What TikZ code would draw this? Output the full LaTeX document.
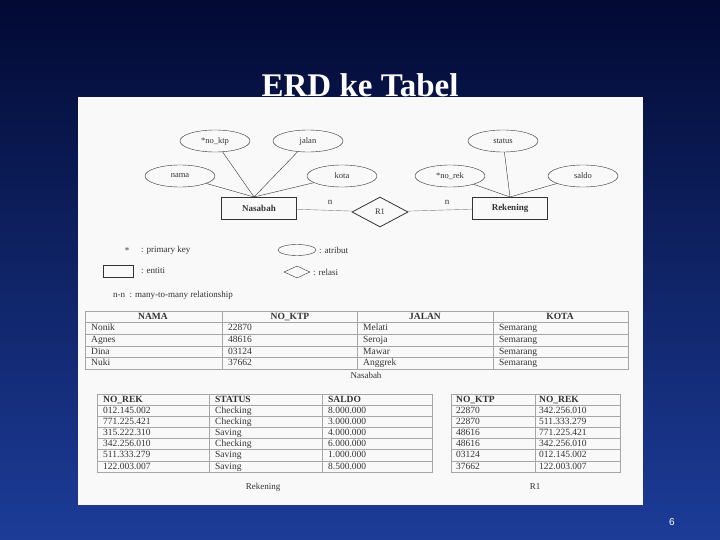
\documentclass[tikz,border=0pt]{standalone}
\usepackage{fontspec}
\setmainfont{Liberation Serif}
\newfontfamily\sansf{Liberation Sans}
\usetikzlibrary{shapes.geometric}
\definecolor{bgtop}{HTML}{020A33}
\definecolor{bgbot}{HTML}{1C3C98}
\definecolor{ink}{HTML}{333333}
\begin{document}
\begin{tikzpicture}[x=1pt,y=-1pt,
  attr/.style={ellipse,draw=ink,minimum width=70pt,minimum height=22pt,inner sep=0pt,font=\fontsize{8.5}{8}\selectfont,text=ink},
  ent/.style={rectangle,draw=ink,thick,minimum width=75pt,minimum height=22pt,font=\fontsize{9}{9}\selectfont\bfseries,text=ink},
  rel/.style={diamond,draw=ink,thick,aspect=1.9,minimum width=56pt,minimum height=30pt,inner sep=0pt,font=\fontsize{8.5}{8}\selectfont,text=ink},
  lnk/.style={draw=ink,thin},
  txt/.style={font=\fontsize{9}{9}\selectfont,text=ink,inner sep=1pt},
  cell/.style={font=\fontsize{9.5}{9}\selectfont,text=ink,anchor=west,inner sep=0pt,text height=6.5pt,text depth=2pt},
  hcell/.style={cell,font=\fontsize{9.5}{9}\selectfont\bfseries},
  grid/.style={draw=gray!70,line width=0.5pt}]
\useasboundingbox (0,0) rectangle (720,540);
\shade[top color=bgtop,bottom color=bgbot] (0,0) rectangle (720,540);
\node[text=white,font=\fontsize{33}{33}\selectfont\bfseries] (title) at (360,85) {ERD ke Tabel};
\fill[white!95!gray] (78,97) rectangle (643,505);
\node[text=white,font=\sansf\fontsize{10}{10}\selectfont] (pg) at (672,522) {6};
% ERD
\node[attr] (ktp) at (215,141) {*no\_ktp};
\node[attr] (jalan) at (308,141) {jalan};
\node[attr] (nama) at (180,176) {nama};
\node[attr] (kota) at (342,176) {kota};
\node[attr] (status) at (503,141) {status};
\node[attr] (norek) at (450,176) {*no\_rek};
\node[attr] (saldo) at (583,176) {saldo};
\node[ent] (nas) at (259,208) {Nasabah};
\node[ent] (rek) at (510,208) {Rekening};
\node[rel] (r1) at (380,212) {R1};
\coordinate (nt) at (254,197);
\coordinate (rt) at (510,197);
\foreach \a in {ktp,jalan,nama,kota} \draw[lnk] (\a) -- (nt);
\foreach \a in {status,norek,saldo} \draw[lnk] (\a) -- (rt);
\draw[lnk,gray] (nas) -- (r1) -- (rek);
\node[txt] (n1) at (330,202) {n};
\node[txt] (n2) at (447,202) {n};
% legend
\node[txt] (star) at (127,251) {*};
\node[txt,anchor=west] (lpk) at (140,250) {: primary key};
\node[ellipse,draw=ink,minimum width=38pt,minimum height=11pt,inner sep=0pt] (lell) at (297,250) {};
\node[txt,anchor=west] (lat) at (318,250) {: atribut};
\node[draw=ink,minimum width=30pt,minimum height=12pt,inner sep=0pt] (lrect) at (118,271) {};
\node[txt,anchor=west] (len) at (140,271) {: entiti};
\node[diamond,draw=ink,aspect=2,minimum width=26pt,minimum height=12pt,inner sep=0pt] (ldia) at (297,272) {};
\node[txt,anchor=west] (lrel) at (312,272) {: relasi};
\node[txt,anchor=west] (lnn) at (112,295) {n-n \ : many-to-many relationship};
% Table Nasabah
\draw[grid] (85,311) rectangle (628,369);
\foreach \y in {322.6,334.2,345.8,357.4} \draw[grid] (85,\y) -- (628,\y);
\foreach \x in {222,357,493} \draw[grid] (\x,311) -- (\x,369);
\foreach \t/\x in {NAMA/153,NO\_KTP/290,JALAN/425,KOTA/560}
  \node[hcell,anchor=center] at (\x,317) {\t};
\foreach \a/\b/\c/\d [count=\i] in {Nonik/22870/Melati/Semarang,Agnes/48616/Seroja/Semarang,Dina/03124/Mawar/Semarang,Nuki/37662/Anggrek/Semarang}{
  \node[cell] at (91,317+\i*11.6) {\a};
  \node[cell] at (228,317+\i*11.6) {\b};
  \node[cell] at (363,317+\i*11.6) {\c};
  \node[cell] at (499,317+\i*11.6) {\d};}
\node[txt] (capn) at (366,375) {Nasabah};
% Table Rekening
\draw[grid] (97,394) rectangle (432,472);
\foreach \i in {1,...,6} \draw[grid] (97,394+\i*11.14) -- (432,394+\i*11.14);
\foreach \x in {209,322} \draw[grid] (\x,394) -- (\x,472);
\node[hcell] at (103,400) {NO\_REK};
\node[hcell] at (215,400) {STATUS};
\node[hcell] at (328,400) {SALDO};
\foreach \a/\b/\c [count=\i] in {012.145.002/Checking/8.000.000,771.225.421/Checking/3.000.000,315.222.310/Saving/4.000.000,342.256.010/Checking/6.000.000,511.333.279/Saving/1.000.000,122.003.007/Saving/8.500.000}{
  \node[cell] at (103,400+\i*11.14) {\a};
  \node[cell] at (215,400+\i*11.14) {\b};
  \node[cell] at (328,400+\i*11.14) {\c};}
\node[txt] (capr) at (263,487) {Rekening};
% Table R1
\draw[grid] (451,394) rectangle (620,472);
\foreach \i in {1,...,6} \draw[grid] (451,394+\i*11.14) -- (620,394+\i*11.14);
\draw[grid] (535,394) -- (535,472);
\node[hcell] at (456,400) {NO\_KTP};
\node[hcell] at (539,400) {NO\_REK};
\foreach \a/\b [count=\i] in {22870/342.256.010,22870/511.333.279,48616/771.225.421,48616/342.256.010,03124/012.145.002,37662/122.003.007}{
  \node[cell] at (456,400+\i*11.14) {\a};
  \node[cell] at (539,400+\i*11.14) {\b};}
\node[txt] (capr1) at (535,487) {R1};
\end{tikzpicture}
\end{document}
